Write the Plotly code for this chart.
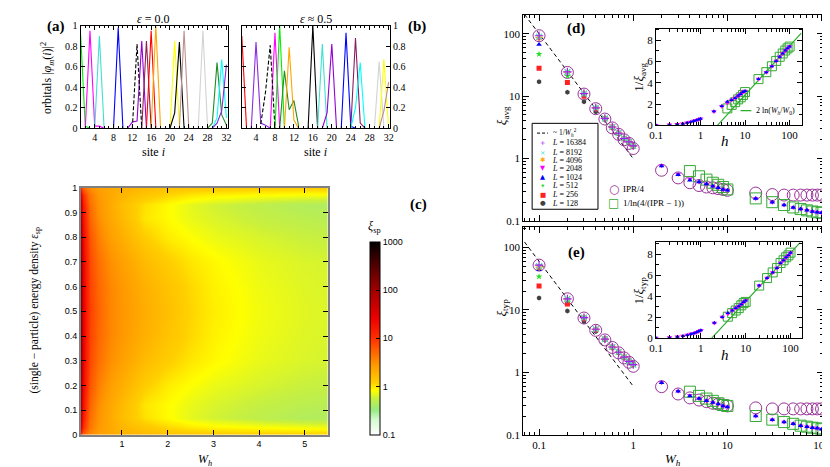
import numpy as np
import plotly.graph_objects as go

W_PX, H_PX = 830, 467
SERIF = "Liberation Serif"
SANS = "Liberation Sans"

# ---------------- panel (a)/(b): orbitals ----------------
# (color, dash, sites, |phi|^2 values)
orbitals_eps0 = [
    ("#00ee00", "solid", [1, 2, 3], [0.92, 0.02, 0.0]),
    ("#ff00ff", "solid", [2, 3, 4, 5, 6], [0.0, 0.95, 0.02, 0.02, 0.0]),
    ("#40e0d0", "solid", [4, 5, 6], [0.0, 0.9, 0.0]),
    ("#0000ff", "solid", [8, 9, 10], [0.0, 0.98, 0.0]),
    ("#9400d3", "solid", [11, 12, 13, 14, 15], [0.0, 0.06, 0.07, 0.85, 0.0]),
    ("#8b2252", "solid", [14, 15, 16], [0.0, 0.85, 0.0]),
    ("#ff0000", "solid", [15, 16, 17], [0.0, 0.95, 0.0]),
    ("#ffa500", "solid", [16, 17, 18], [0.0, 1.0, 0.0]),
    ("#ffff00", "solid", [20, 21, 22], [0.0, 0.85, 0.0]),
    ("#000000", "solid", [20, 21, 22, 23], [0.0, 0.15, 0.84, 0.0]),
    ("#bc8f8f", "solid", [22, 23, 24], [0.0, 0.95, 0.0]),
    ("#d3d3d3", "solid", [26, 27, 28], [0.0, 0.95, 0.0]),
    ("#228b22", "solid", [28, 29, 30, 31, 32], [0.0, 0.05, 0.64, 0.13, 0.03]),
    ("#00ffff", "solid", [29, 30, 31, 32], [0.0, 0.1, 0.67, 0.1]),
    ("#8a2be2", "solid", [29, 30, 31, 32], [0.0, 0.05, 0.17, 0.62]),
    ("#000000", "dash", [12, 13, 14], [0.0, 0.82, 0.0]),
]
orbitals_eps05 = [
    ("#ff0000", "solid", [1, 2], [0.9, 0.0]),
    ("#8a2be2", "solid", [3, 4, 5, 6, 7], [0.0, 0.84, 0.05, 0.03, 0.0]),
    ("#ff00ff", "solid", [7, 8, 9], [0.0, 0.93, 0.0]),
    ("#00ee00", "solid", [8, 9, 10], [0.0, 1.0, 0.0]),
    ("#228b22", "solid", [9, 10, 11, 12, 13], [0.0, 0.56, 0.18, 0.27, 0.02]),
    ("#ffa500", "solid", [10, 11, 12, 13], [0.0, 0.79, 0.08, 0.0]),
    ("#000000", "solid", [15, 16, 17], [0.0, 1.0, 0.0]),
    ("#40e0d0", "solid", [17, 18, 19], [0.0, 0.82, 0.0]),
    ("#9400d3", "solid", [18, 19, 20, 21], [0.0, 0.15, 0.82, 0.0]),
    ("#0000ff", "solid", [22, 23, 24, 25], [0.0, 0.93, 0.02, 0.0]),
    ("#8b1c62", "solid", [24, 25, 26, 27], [0.0, 0.88, 0.05, 0.0]),
    ("#00ffff", "solid", [24, 25, 26, 27], [0.0, 0.2, 0.64, 0.0]),
    ("#d3d3d3", "solid", [29, 30, 31], [0.0, 0.65, 0.0]),
    ("#ffff00", "solid", [30, 31, 32], [0.0, 0.67, 0.0]),
    ("#bc8f8f", "solid", [30, 31, 32], [0.0, 0.17, 0.45]),
    ("#000000", "dash", [5, 6, 7, 8], [0.04, 0.35, 0.81, 0.0]),
]

# ---------------- panel (c): xi_sp heat map ----------------
W_c = [0.1, 0.15, 0.2, 0.3, 0.5, 0.75, 1.0, 1.5, 2.0, 2.5, 3.0, 4.0, 5.0, 5.5]
eps_c = [0.0, 0.03, 0.07, 0.12, 0.2, 0.3, 0.4, 0.5, 0.6, 0.7, 0.8, 0.88, 0.93, 0.97, 1.0]
xi_sp_rows = [
    [10, 5.5, 4.2, 3.2, 2.5, 2.2, 2.0, 1.7, 1.5, 1.4, 1.35, 1.3, 1.25, 1.25],
    [30, 11, 6.8, 4.1, 2.7, 2.2, 1.8, 1.4, 1.15, 1.0, 0.92, 0.85, 0.8, 0.8],
    [55, 16, 8.5, 4.7, 2.9, 2.1, 1.6, 1.05, 0.85, 0.7, 0.62, 0.52, 0.45, 0.44],
    [70, 19, 10, 5.2, 3.1, 2.2, 1.7, 1.0, 0.85, 0.72, 0.65, 0.56, 0.5, 0.48],
    [95, 23, 12, 6.4, 3.7, 2.5, 2.0, 1.25, 0.95, 0.82, 0.73, 0.64, 0.58, 0.56],
    [120, 27, 14, 7.4, 4.5, 3.1, 2.5, 1.65, 1.25, 1.0, 0.87, 0.72, 0.65, 0.63],
    [140, 29, 15, 8, 5, 3.4, 2.8, 1.95, 1.45, 1.12, 0.92, 0.75, 0.67, 0.65],
    [150, 30, 15.5, 8.2, 5.1, 3.5, 2.9, 2.05, 1.55, 1.15, 0.95, 0.77, 0.68, 0.66],
    [140, 29, 15, 8, 5, 3.4, 2.8, 1.95, 1.45, 1.12, 0.92, 0.75, 0.67, 0.65],
    [120, 27, 14, 7.4, 4.5, 3.1, 2.5, 1.65, 1.25, 1.0, 0.87, 0.72, 0.65, 0.63],
    [95, 23, 12, 6.4, 3.7, 2.5, 2.0, 1.25, 0.95, 0.82, 0.73, 0.64, 0.58, 0.56],
    [70, 19, 10, 5.2, 3.1, 2.2, 1.7, 1.0, 0.85, 0.72, 0.65, 0.56, 0.5, 0.48],
    [55, 16, 8.5, 4.7, 2.9, 2.1, 1.6, 1.05, 0.85, 0.7, 0.62, 0.52, 0.45, 0.44],
    [30, 11, 6.8, 4.1, 2.7, 2.2, 1.8, 1.4, 1.15, 1.0, 0.92, 0.85, 0.8, 0.8],
    [10, 5.5, 4.2, 3.2, 2.5, 2.2, 2.0, 1.7, 1.5, 1.4, 1.35, 1.3, 1.25, 1.25],
]
cbar_ticks = [0.1, 1, 10, 100, 1000]

# ---------------- panels (d)/(e) ----------------
W_h = [0.1, 0.2, 0.3, 0.4, 0.5, 0.6, 0.7, 0.8, 0.9, 1.0,
       2, 3, 4, 5, 6, 7, 8, 9, 10,
       20, 30, 40, 50, 60, 70, 80, 90, 100]
W_small = W_h[:10]
W_sq = W_h[12:]

# xi_avg
avg_16384 = [93, 24.5, 11, 6.5, 4.4, 3.2, 2.55, 2.1, 1.85, 1.6]
avg_8192 = [90, 24.5, 11, 6.5, 4.4, 3.2, 2.55, 2.1, 1.85, 1.6]
avg_4096 = [87, 24.3, 11, 6.5, 4.4, 3.2, 2.55, 2.1, 1.85, 1.6]
avg_2048 = [83, 24, 11, 6.5, 4.4, 3.2, 2.55, 2.1, 1.85, 1.6,
            0.77, 0.56, 0.47, 0.42, 0.39, 0.36, 0.34, 0.32, 0.31,
            0.23, 0.2, 0.18, 0.165, 0.155, 0.148, 0.142, 0.138, 0.135]
avg_1024 = [67, 23.5, 11, 6.5, 4.4, 3.2, 2.55, 2.1, 1.85, 1.6,
            0.76, 0.55, 0.45, 0.42, 0.39, 0.36, 0.34, 0.32, 0.31,
            0.23, 0.2, 0.18, 0.165, 0.155, 0.148, 0.142, 0.138, 0.135]
avg_512 = [47, 21, 10.8, 6.5, 4.4, 3.2, 2.55, 2.1, 1.85, 1.6]
avg_256 = [28, 16.5, 10, 6.3, 4.4, 3.2, 2.55, 2.1, 1.85, 1.6]
avg_128 = [17, 11.5, 8.1, 5.6, 4.2, 3.1, 2.5, 2.05, 1.8, 1.55]
avg_ipr = [93, 24, 10.8, 6.3, 4.3, 3.1, 2.45, 2.0, 1.75, 1.45,
           0.65, 0.49, 0.41, 0.37, 0.35, 0.34, 0.33, 0.32, 0.31,
           0.28, 0.265, 0.26, 0.26, 0.26, 0.26, 0.26, 0.26, 0.26]
avg_lnipr = [0.63, 0.52, 0.46, 0.41, 0.38, 0.35, 0.32,
             0.23, 0.2, 0.18, 0.165, 0.155, 0.148, 0.142, 0.138, 0.135]
avg_fit_W = [0.07, 1.0]
avg_fit = [204, 1.0]
avg_ln_h = [2.4, 185]
avg_ln = [0.0, 8.69]

# xi_typ
typ_16384 = [52, 15, 7.5, 4.9, 3.4, 2.55, 2.1, 1.75, 1.5, 1.33]
typ_8192 = [50, 15, 7.5, 4.9, 3.4, 2.55, 2.1, 1.75, 1.5, 1.33]
typ_4096 = [48, 15, 7.5, 4.9, 3.4, 2.55, 2.1, 1.75, 1.5, 1.33]
typ_2048 = [47, 15, 7.5, 4.9, 3.4, 2.55, 2.1, 1.75, 1.5, 1.33,
            0.69, 0.5, 0.43, 0.38, 0.35, 0.33, 0.31, 0.29, 0.28,
            0.2, 0.175, 0.16, 0.15, 0.14, 0.135, 0.13, 0.127, 0.123]
typ_1024 = [44, 14.8, 7.5, 4.9, 3.4, 2.55, 2.1, 1.75, 1.5, 1.33,
            0.68, 0.5, 0.42, 0.38, 0.35, 0.33, 0.31, 0.29, 0.28,
            0.2, 0.175, 0.16, 0.15, 0.14, 0.135, 0.13, 0.127, 0.123]
typ_512 = [34, 14, 7.4, 4.9, 3.4, 2.55, 2.1, 1.75, 1.5, 1.33]
typ_256 = [24, 12.4, 7.2, 4.8, 3.4, 2.55, 2.1, 1.75, 1.5, 1.33]
typ_128 = [15.5, 9.6, 6.5, 4.5, 3.3, 2.5, 2.05, 1.72, 1.48, 1.3]
typ_ipr = [52, 15, 7.4, 4.7, 3.3, 2.5, 2.05, 1.7, 1.45, 1.25,
           0.59, 0.45, 0.39, 0.36, 0.34, 0.32, 0.31, 0.3, 0.29,
           0.27, 0.26, 0.26, 0.26, 0.26, 0.26, 0.26, 0.26, 0.26]
typ_lnipr = [0.49, 0.42, 0.38, 0.35, 0.32, 0.3, 0.29,
             0.2, 0.175, 0.16, 0.15, 0.14, 0.135, 0.13, 0.127, 0.123]
typ_fit_W = [0.07, 1.0]
typ_fit = [122, 0.6]
typ_ln_h = [1.75, 165]
typ_ln = [0.0, 9.1]

L_labels = ["16384", "8192", "4096", "2048", "1024", "512", "256", "128"]
L_colors = ["#a020f0", "#40e0d0", "#ffa500", "#ff00ff", "#0000ff", "#22dd22", "#ff2020", "#404040"]
L_symbols = ["cross-thin-open", "x-thin-open", "asterisk-open", "triangle-down",
             "triangle-up", "star", "square", "hexagon"]
L_glyphs = ["+", "×", "✱", "▼", "▲", "✦", "■", "●"]
IPR_COLOR = "#993399"
SQ_COLOR = "#33aa33"

# ---------------- helpers ----------------
def fx(px):
    return px / W_PX


def fy(py):
    return 1 - py / H_PX


fig = go.Figure()

# domains (pixels -> paper)
dom = {
    1: ([66.7, 216.5], [13, 118]),
    2: ([230.7, 381.5], [13, 118]),
    3: ([67, 318], [179, 432]),
    4: ([517, 822], [2, 213]),
    5: ([517, 822], [219, 432]),
    6: ([652, 800], [16, 115]),
    7: ([652, 801], [235, 333]),
}


def axname(i, kind):
    return f"{kind}axis" if i == 1 else f"{kind}axis{i}"


def ref(i, kind):
    return kind if i == 1 else f"{kind}{i}"


# panels a, b
for k, orbs in ((1, orbitals_eps0), (2, orbitals_eps05)):
    for col, dash, s, v in orbs:
        fig.add_trace(go.Scatter(x=s, y=v, mode="lines",
                                 line=dict(color=col, width=1.1, dash=dash if dash == "solid" else "4px,2px"),
                                 xaxis=ref(k, "x"), yaxis=ref(k, "y"), showlegend=False, hoverinfo="skip"))

# panel c
cscale = [
    [0.0, "#ffffff"], [0.08, "#d4f8d0"], [0.13, "#98ea80"], [0.19, "#c8f040"],
    [0.23, "#ffff00"], [0.27, "#ffd000"], [0.36, "#ff9a00"], [0.5, "#ff3000"],
    [0.6, "#f00000"], [0.75, "#a00000"], [0.88, "#500000"], [1.0, "#000000"],
]
fig.add_trace(go.Heatmap(
    x=W_c, y=eps_c, z=np.log10(np.array(xi_sp_rows, dtype=float)),
    zmin=-1, zmax=3, zsmooth="best", colorscale=cscale,
    xaxis="x3", yaxis="y3", hoverinfo="skip",
    colorbar=dict(x=fx(361), xanchor="left", y=fy(432), yanchor="bottom",
                  len=(432 - 234) / H_PX, lenmode="fraction", thickness=10,
                  xpad=0, ypad=0, outlinecolor="black", outlinewidth=1,
                  tickvals=list(np.log10(cbar_ticks)), ticktext=[str(t) for t in cbar_ticks],
                  ticks="inside", ticklen=4, tickcolor="black",
                  tickfont=dict(family=SANS, size=9, color="black")),
))

# panels d, e
def add_main(k, xs_full, series_small, s2048, s1024, ipr, lnipr, fitW, fit):
    fig.add_trace(go.Scatter(x=fitW, y=fit, mode="lines", line=dict(color="black", width=1, dash="4px,3px"),
                             xaxis=ref(k, "x"), yaxis=ref(k, "y"), showlegend=False, hoverinfo="skip"))
    fig.add_trace(go.Scatter(x=xs_full, y=ipr, mode="markers",
                             marker=dict(symbol="circle-open", size=12, color=IPR_COLOR, line=dict(width=1)),
                             xaxis=ref(k, "x"), yaxis=ref(k, "y"), showlegend=False, hoverinfo="skip"))
    fig.add_trace(go.Scatter(x=W_sq, y=lnipr, mode="markers",
                             marker=dict(symbol="square-open", size=11, color=SQ_COLOR, line=dict(width=1)),
                             xaxis=ref(k, "x"), yaxis=ref(k, "y"), showlegend=False, hoverinfo="skip"))
    order = [7, 6, 5, 3, 4, 2, 1, 0]
    for j in order:
        if j == 3:
            xs, ys = xs_full, s2048
        elif j == 4:
            xs, ys = xs_full, s1024
        else:
            xs, ys = W_small, series_small[j]
        sym = L_symbols[j]
        thin = "thin" in sym or "asterisk" in sym
        fig.add_trace(go.Scatter(x=xs, y=ys, mode="markers",
                                 marker=dict(symbol=sym, size=6 if thin else 5, color=L_colors[j],
                                             line=dict(width=1.1 if thin else 0, color=L_colors[j])),
                                 xaxis=ref(k, "x"), yaxis=ref(k, "y"), showlegend=False, hoverinfo="skip"))


avg_small = {0: avg_16384, 1: avg_8192, 2: avg_4096, 5: avg_512, 6: avg_256, 7: avg_128}
typ_small = {0: typ_16384, 1: typ_8192, 2: typ_4096, 5: typ_512, 6: typ_256, 7: typ_128}
add_main(4, W_h, avg_small, avg_2048, avg_1024, avg_ipr, avg_lnipr, avg_fit_W, avg_fit)
add_main(5, W_h, typ_small, typ_2048, typ_1024, typ_ipr, typ_lnipr, typ_fit_W, typ_fit)


def add_inset(k, s2048, s1024, lnipr, ln_h, ln_v):
    fig.add_trace(go.Scatter(x=ln_h, y=ln_v, mode="lines", line=dict(color="#22aa22", width=1.1),
                             xaxis=ref(k, "x"), yaxis=ref(k, "y"), showlegend=False, hoverinfo="skip"))
    fig.add_trace(go.Scatter(x=W_sq, y=[1 / v for v in lnipr], mode="markers",
                             marker=dict(symbol="square-open", size=9, color=SQ_COLOR, line=dict(width=1)),
                             xaxis=ref(k, "x"), yaxis=ref(k, "y"), showlegend=False, hoverinfo="skip"))
    fig.add_trace(go.Scatter(x=W_h, y=[1 / v for v in s2048], mode="markers",
                             marker=dict(symbol="triangle-down", size=5, color="#ff00ff"),
                             xaxis=ref(k, "x"), yaxis=ref(k, "y"), showlegend=False, hoverinfo="skip"))
    fig.add_trace(go.Scatter(x=W_h, y=[1 / v for v in s1024], mode="markers",
                             marker=dict(symbol="triangle-up", size=4, color="#0000ff"),
                             xaxis=ref(k, "x"), yaxis=ref(k, "y"), showlegend=False, hoverinfo="skip"))


add_inset(6, avg_2048, avg_1024, avg_lnipr, avg_ln_h, avg_ln)
add_inset(7, typ_2048, typ_1024, typ_lnipr, typ_ln_h, typ_ln)

# ---------------- axes ----------------
base = dict(showline=True, linecolor="black", linewidth=1, mirror="allticks", ticks="inside",
            tickcolor="black", showgrid=False, zeroline=False)
layout = {}
for i, (xd, yd) in dom.items():
    layout[axname(i, "x")] = dict(base, domain=[fx(xd[0]), fx(xd[1])], anchor=ref(i, "y"))
    layout[axname(i, "y")] = dict(base, domain=[fy(yd[1]), fy(yd[0])], anchor=ref(i, "x"))

serif_tick = dict(family=SERIF, size=10, color="black")
for i in (1, 2):
    layout[axname(i, "x")].update(range=[1, 32.3], tick0=0, dtick=4, ticklen=4, tickfont=serif_tick,
                                  minor=dict(dtick=1, ticks="inside", ticklen=2, tickcolor="black"))
    layout[axname(i, "y")].update(range=[0, 1.0], tickvals=[0, 0.2, 0.4, 0.6, 0.8, 1.0],
                                  ticktext=["0", "0.2", "0.4", "0.6", "0.8", "1"], ticklen=4,
                                  tickfont=serif_tick)
layout["yaxis2"].update(side="right")

gray = "#808080"
layout["xaxis3"].update(range=[0.1, 5.5], tickvals=[1, 2, 3, 4, 5], ticklen=5, linecolor=gray, linewidth=1.5,
                        tickfont=dict(family=SANS, size=9, color="black"))
layout["yaxis3"].update(range=[0, 1], dtick=0.1, tick0=0, ticklen=5, linecolor=gray, linewidth=1.5,
                        tickformat="~g", tickfont=dict(family=SANS, size=9, color="black"))

big_tick = dict(family=SERIF, size=11, color="black")
for i, yr in ((4, [-1, np.log10(200)]), (5, [-1, np.log10(213)])):
    layout[axname(i, "x")].update(type="log", range=[np.log10(0.068), np.log10(104)], dtick=1, tick0=0,
                                  ticklen=6, tickfont=big_tick,
                                  minor=dict(dtick="D1", ticks="inside", ticklen=3, tickcolor="black"))
    layout[axname(i, "y")].update(type="log", range=yr, dtick=1, tick0=0, ticklen=6, tickfont=big_tick,
                                  minor=dict(dtick="D1", ticks="inside", ticklen=3, tickcolor="black"))
layout["xaxis4"].update(showticklabels=False)
for i in (6, 7):
    layout[axname(i, "x")].update(type="log", range=[-1, np.log10(185)], dtick=1, tick0=0, ticklen=5,
                                  tickfont=big_tick,
                                  minor=dict(dtick="D1", ticks="inside", ticklen=3, tickcolor="black"))
    layout[axname(i, "y")].update(range=[0, 9.1], tickvals=[0, 2, 4, 6, 8], ticklen=5, tickfont=big_tick,
                                  minor=dict(dtick=1, ticks="inside", ticklen=3, tickcolor="black"))

# ---------------- annotations ----------------
anns = []
shapes = []


def ann(px, py, text, size=11, color="black", family=SERIF, xanchor="center", yanchor="middle", angle=0):
    anns.append(dict(x=fx(px), y=fy(py), xref="paper", yref="paper", text=text, showarrow=False,
                     xanchor=xanchor, yanchor=yanchor, textangle=angle,
                     font=dict(family=family, size=size, color=color)))


# panel labels
ann(42, 14, "<b>(a)</b>", 15)
ann(409, 14, "<b>(b)</b>", 15)
ann(410, 196, "<b>(c)</b>", 15)
ann(571, 16, "<b>(d)</b>", 15)
ann(571, 245, "<b>(e)</b>", 15)
# titles
ann(141, 6, "<i>ε</i> = 0.0", 12)
ann(306, 6, "<i>ε</i> ≈ 0.5", 12)
ann(33, 66, "orbitals |<i>φ<sub>m</sub></i>(<i>i</i>)|<sup>2</sup>", 12, angle=-90)
ann(141, 142, "site <i>i</i>", 12)
ann(306, 142, "site <i>i</i>", 12)
ann(20, 305, "(single − particle) energy density <i>ε</i><sub>sp</sub>", 11.5, angle=-90)
ann(193, 458, "<i>W<sub>h</sub></i>", 12)
ann(366, 219, "<i>ξ</i><sub>sp</sub>", 12)
ann(496, 105, "<i>ξ</i><sub>avg</sub>", 13, angle=-90)
ann(496, 302, "<i>ξ</i><sub>typ</sub>", 13, angle=-90)
ann(669, 457, "<i>W<sub>h</sub></i>", 13)
ann(722, 131, "<i>h</i>", 15)
ann(722, 350, "<i>h</i>", 15)
ann(635, 66, "1/<i>ξ</i><sub>avg</sub>", 13, angle=-90)
ann(635, 284, "1/<i>ξ</i><sub>typ</sub>", 13, angle=-90)

# legend box in (d)
shapes.append(dict(type="rect", xref="paper", yref="paper", x0=fx(526), x1=fx(593), y0=fy(201), y1=fy(113),
                   line=dict(color="black", width=1)))
shapes.append(dict(type="line", xref="paper", yref="paper", x0=fx(531), x1=fx(542), y0=fy(123), y1=fy(123),
                   line=dict(color="black", width=1, dash="3px,2px")))
ann(545, 122, "~ 1/<i>W</i><sub><i>h</i></sub><sup>2</sup>", 7.5, xanchor="left")
rows_y = [133, 143, 151, 159, 168, 177, 186, 195]
for j, yy in enumerate(rows_y):
    ann(537, yy, L_glyphs[j], 6.5, color=L_colors[j], family="DejaVu Sans")
    ann(544, yy, f"<i>L</i> = {L_labels[j]}", 8, xanchor="left")
# IPR legend
ann(609, 180, "○", 12, color=IPR_COLOR, family="DejaVu Sans")
ann(616, 180, "IPR/4", 9, xanchor="left")
ann(609, 195, "□", 12, color=SQ_COLOR, family="DejaVu Sans")
ann(616, 195, "1/ln(4/(IPR − 1))", 9, xanchor="left")
# inset legend
shapes.append(dict(type="line", xref="paper", yref="paper", x0=fx(738), x1=fx(749), y0=fy(100), y1=fy(100),
                   line=dict(color="#22aa22", width=1.2)))
ann(752, 100, "2 ln(<i>W<sub>h</sub></i>/<i>W</i><sub>0</sub>)", 8, xanchor="left")

fig.update_layout(
    width=W_PX, height=H_PX, margin=dict(l=0, r=0, t=0, b=0),
    paper_bgcolor="white", plot_bgcolor="white", showlegend=False,
    annotations=anns, shapes=shapes, font=dict(family=SERIF, color="black"),
    **layout,
)
fig.write_html("out.html")
